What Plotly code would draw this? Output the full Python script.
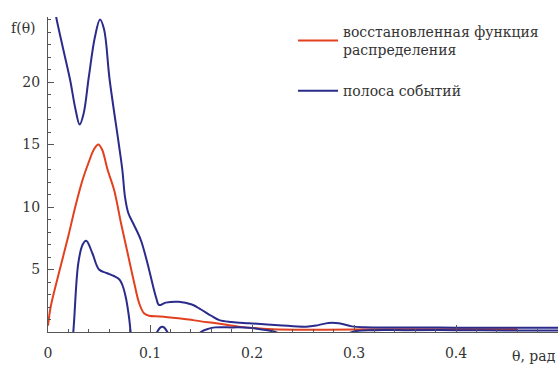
import plotly.graph_objects as go

# ---- data ----
red_x = [0, 0.0026, 0.010, 0.020, 0.027, 0.034, 0.040, 0.045, 0.0493, 0.053, 0.0585,
         0.065, 0.0716, 0.0781, 0.0846, 0.0894, 0.0941, 0.099, 0.110, 0.128, 0.138,
         0.150, 0.165, 0.187, 0.22, 0.26, 0.30, 0.35, 0.40, 0.46]
red_y = [0.5, 2.0, 4.5, 7.7, 10.1, 12.2, 13.6, 14.6, 15.0, 14.6, 12.96,
         11.3, 8.7, 6.3, 3.9, 2.3, 1.5, 1.3, 1.25, 1.1, 1.0,
         0.85, 0.7, 0.43, 0.22, 0.18, 0.2, 0.22, 0.22, 0.22]

upper_x = [0.003, 0.008, 0.015, 0.0216, 0.027, 0.031, 0.035, 0.040, 0.046, 0.051, 0.055,
           0.0604, 0.0693, 0.0729, 0.0755, 0.0788, 0.0843, 0.091, 0.0975, 0.1023, 0.1062,
           0.1088, 0.1154, 0.128, 0.141, 0.150, 0.160, 0.168, 0.180, 0.197, 0.226, 0.253,
           0.265, 0.275, 0.285, 0.298, 0.31, 0.35, 0.40, 0.45, 0.5]
upper_y = [27.5, 25.2, 22.6, 20.2, 17.8, 16.6, 17.5, 20.4, 23.6, 25.0, 24.2,
           20.2, 15.1, 12.96, 10.8, 9.5, 8.56, 7.36, 5.5, 3.9, 2.7,
           2.16, 2.35, 2.42, 2.2, 1.8, 1.3, 0.95, 0.8, 0.7, 0.55, 0.42,
           0.55, 0.72, 0.7, 0.45, 0.38, 0.36, 0.35, 0.35, 0.35]

lower_x = [0.020, 0.0248, 0.0297, 0.0340, 0.0375, 0.0435, 0.050, 0.0581, 0.0647, 0.0700,
           0.0729, 0.0762, 0.0794, 0.081, 0.085, None,
           0.104, 0.107, 0.110, 0.112, 0.114, 0.117, 0.120, None,
           0.145, 0.150, 0.157, 0.164, 0.18, 0.197, 0.21, 0.223, 0.23, None,
           0.29, 0.30, 0.32, 0.35, 0.40, 0.45, 0.5]
lower_y = [-4, 0, 5.5, 7.0, 7.3, 6.3, 5.0, 4.7, 4.48, 4.2,
           3.76, 2.8, 1.2, 0, -3, None,
           -0.5, 0, 0.35, 0.42, 0.35, 0, -0.5, None,
           -0.5, 0, 0.25, 0.37, 0.37, 0.35, 0.2, 0, -0.3, None,
           -0.3, 0.05, 0.15, 0.15, 0.15, 0.12, 0.12]

x_tickvals = [0, 0.1, 0.2, 0.3, 0.4, 0.5]
x_ticktext = ["0", "0.1", "0.2", "0.3", "0.4", ""]
y_tickvals = [5, 10, 15, 20]
y_ticktext = ["5", "10", "15", "20"]

RED = "#e2401e"
BLUE = "#2b2b8c"
FONT = "DejaVu Serif"

fig = go.Figure()
fig.add_trace(go.Scatter(x=red_x, y=red_y, mode="lines", line=dict(color=RED, width=2, shape="spline"),
                         name="восстановленная функция<br>распределения", legendgroup="a"))
fig.add_trace(go.Scatter(x=upper_x, y=upper_y, mode="lines", line=dict(color=BLUE, width=2, shape="spline"),
                         name="полоса событий", legendgroup="b"))
fig.add_trace(go.Scatter(x=lower_x, y=lower_y, mode="lines", line=dict(color=BLUE, width=2, shape="spline"),
                         name="полоса событий", legendgroup="b", showlegend=False, connectgaps=False))

fig.update_layout(
    width=559, height=365,
    margin=dict(l=48, r=1, t=17, b=33, autoexpand=False),
    paper_bgcolor="white", plot_bgcolor="white",
    font=dict(family=FONT, size=14, color="#333"),
    showlegend=True,
    legend=dict(x=0.4804, y=1.004, xanchor="left", yanchor="top", bgcolor="rgba(0,0,0,0)",
                traceorder="grouped", tracegroupgap=20, itemwidth=40,
                font=dict(family=FONT, size=14, color="#333")),
    xaxis=dict(range=[0, 0.5], showgrid=False, zeroline=False, showline=True,
               linecolor="#555", linewidth=1, ticks="inside", ticklen=7, tickcolor="#555",
               tickvals=x_tickvals, ticktext=x_ticktext, ticklabelstandoff=8,
               tickfont=dict(family=FONT, size=14, color="#333"),
               minor=dict(dtick=0.02, tick0=0, ticks="inside", ticklen=3, tickcolor="#555"),
               fixedrange=True),
    yaxis=dict(range=[0, 25.2], showgrid=False, zeroline=False, showline=True,
               linecolor="#555", linewidth=1, ticks="inside", ticklen=6, tickcolor="#555",
               tickvals=y_tickvals, ticktext=y_ticktext, ticklabelstandoff=4,
               tickfont=dict(family=FONT, size=14, color="#333"),
               minor=dict(dtick=1, tick0=0, ticks="inside", ticklen=3, tickcolor="#555"),
               fixedrange=True),
    annotations=[
        dict(text="f(θ)", xref="paper", yref="paper", x=0, y=1, xshift=-25, yshift=-11,
             xanchor="center", yanchor="middle", showarrow=False,
             font=dict(family=FONT, size=14, color="#333")),
        dict(text="θ, рад", xref="paper", yref="paper", x=1, y=0, yshift=-24,
             xanchor="right", yanchor="middle", showarrow=False,
             font=dict(family=FONT, size=14, color="#333")),
    ],
)

fig.write_html("out.html")
